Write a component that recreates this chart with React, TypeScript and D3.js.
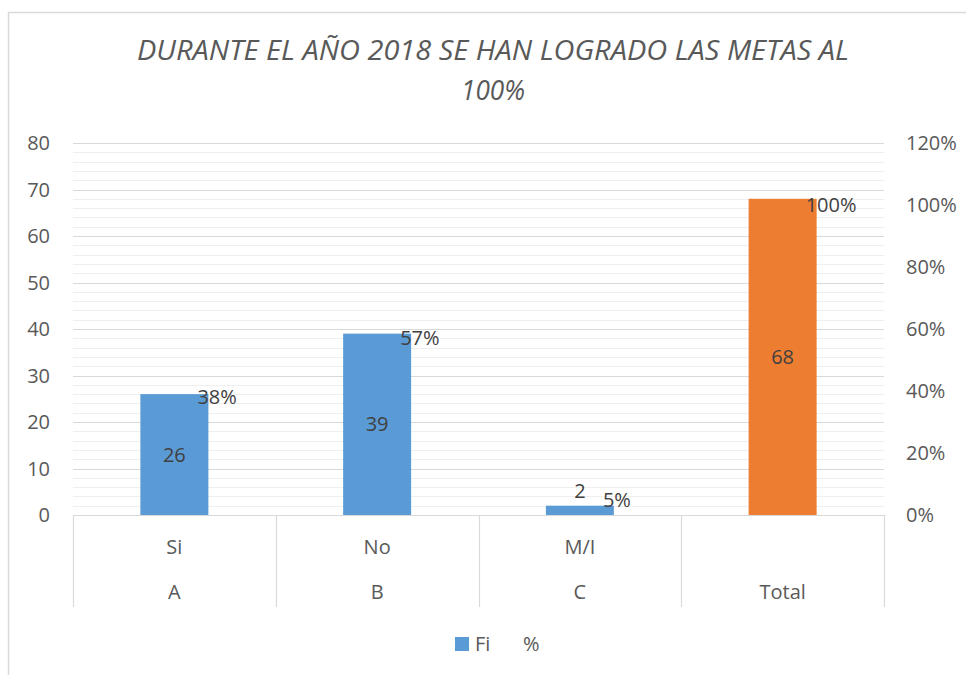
import React from "react";
import * as d3 from "d3";

const groups = ["A", "B", "C", "Total"];
const subLabels = ["Si", "No", "M/I", ""];
const fiValues = [26, 39, 2, 68];
const pctValues = [0.38, 0.57, 0.05, 1.0];
const leftTicks = [0, 10, 20, 30, 40, 50, 60, 70, 80];
const rightTicks = [0, 0.2, 0.4, 0.6, 0.8, 1.0, 1.2];
const titleLines = ["DURANTE EL AÑO 2018 SE HAN LOGRADO LAS METAS AL", "100%"];
const legendItems = ["Fi", "%"];

const W = 966;
const H = 675;
const FONT = "'Open Sans', 'Liberation Sans', sans-serif";
const TXT = "#595959";
const LBL = "#404040";
const BLUE = "#5B9BD5";
const ORANGE = "#ED7D31";
const FS = 20;

export default function App() {
  const x0 = 73, x1 = 884, yBase = 515, yTop = 143;
  const x = d3.scaleBand<string>().domain(groups).range([x0, x1]).paddingInner(0).paddingOuter(0);
  const yL = d3.scaleLinear().domain([0, 80]).range([yBase, yTop]);
  const yR = d3.scaleLinear().domain([0, 1.2]).range([yBase, yTop]);
  const bw = x.bandwidth();
  const barW = 68;
  const minor = d3.range(0, 81, 2).filter((v) => v % 10 !== 0);
  const fmtPct = d3.format(".0%");

  return (
    <svg width={W} height={H} style={{ position: "absolute", left: 0, top: 0, background: "#fff" }} fontFamily={FONT}>
      <rect x={8.5} y={12.5} width={W + 20} height={H + 20} fill="#fff" stroke="#D9D9D9" strokeWidth={1.5} />
      {/* title */}
      <text x={493} y={60} textAnchor="middle" fontSize={27} fontStyle="italic" fill={TXT}
        textLength={712} lengthAdjust="spacingAndGlyphs">{titleLines[0]}</text>
      <text x={493} y={100} textAnchor="middle" fontSize={27} fontStyle="italic" fill={TXT}
        textLength={64} lengthAdjust="spacingAndGlyphs">{titleLines[1]}</text>
      {/* minor grid */}
      {minor.map((v) => (
        <line key={"m" + v} x1={x0} x2={x1} y1={Math.round(yL(v)) + 0.5} y2={Math.round(yL(v)) + 0.5} stroke="#EFEFEF" strokeWidth={1} />
      ))}
      {/* major grid */}
      {leftTicks.map((v) => (
        <line key={"g" + v} x1={x0} x2={x1} y1={Math.round(yL(v)) + 0.5} y2={Math.round(yL(v)) + 0.5} stroke="#D9D9D9" strokeWidth={1.2} />
      ))}
      {/* left axis labels */}
      {leftTicks.map((v) => (
        <text key={"l" + v} x={50} y={yL(v)} dy="0.35em" textAnchor="end" fontSize={FS} fill={TXT}>{v}</text>
      ))}
      {/* right axis labels */}
      {rightTicks.map((v) => (
        <text key={"r" + v} x={906} y={yR(v)} dy="0.35em" textAnchor="start" fontSize={FS} fill={TXT}>{fmtPct(v)}</text>
      ))}
      {/* category separators */}
      {groups.map((g) => (
        <line key={"s" + g} x1={Math.round(x(g)!) + 0.5} x2={Math.round(x(g)!) + 0.5} y1={yBase} y2={607} stroke="#D9D9D9" strokeWidth={1.2} />
      ))}
      <line x1={x1 + 0.5} x2={x1 + 0.5} y1={yBase} y2={607} stroke="#D9D9D9" strokeWidth={1.2} />
      {/* bars */}
      {groups.map((g, i) => {
        const cx = x(g)! + bw / 2;
        return (
          <rect key={"b" + g} x={cx - barW / 2} y={yL(fiValues[i])} width={barW} height={yBase - yL(fiValues[i])}
            fill={g === "Total" ? ORANGE : BLUE} />
        );
      })}
      {/* Fi labels */}
      {groups.map((g, i) => {
        const cx = x(g)! + bw / 2;
        const h = yBase - yL(fiValues[i]);
        const y = h > 30 ? (yL(fiValues[i]) + yBase) / 2 : yL(fiValues[i]) - 15;
        return (
          <text key={"fl" + g} x={cx} y={y} dy="0.35em" textAnchor="middle" fontSize={FS} fill={LBL}>{fiValues[i]}</text>
        );
      })}
      {/* % labels */}
      {groups.map((g, i) => {
        const cx = x(g)! + bw / 2;
        return (
          <text key={"pl" + g} x={cx + 23} y={yR(pctValues[i])} dy="0.35em" textAnchor="start" fontSize={FS} fill={LBL}>{fmtPct(pctValues[i])}</text>
        );
      })}
      {/* category labels */}
      {groups.map((g, i) => {
        const cx = x(g)! + bw / 2;
        return (
          <g key={"c" + g}>
            {subLabels[i] && <text x={cx} y={547} dy="0.35em" textAnchor="middle" fontSize={FS} fill={TXT}>{subLabels[i]}</text>}
            <text x={cx} y={592} dy="0.35em" textAnchor="middle" fontSize={FS} fill={TXT}>{g}</text>
          </g>
        );
      })}
      {/* legend */}
      <rect x={455} y={637} width={14} height={14} fill={BLUE} />
      <text x={475} y={644} dy="0.35em" fontSize={FS} fill={TXT}>{legendItems[0]}</text>
      <text x={523} y={644} dy="0.35em" fontSize={FS} fill={TXT}>{legendItems[1]}</text>
    </svg>
  );
}
